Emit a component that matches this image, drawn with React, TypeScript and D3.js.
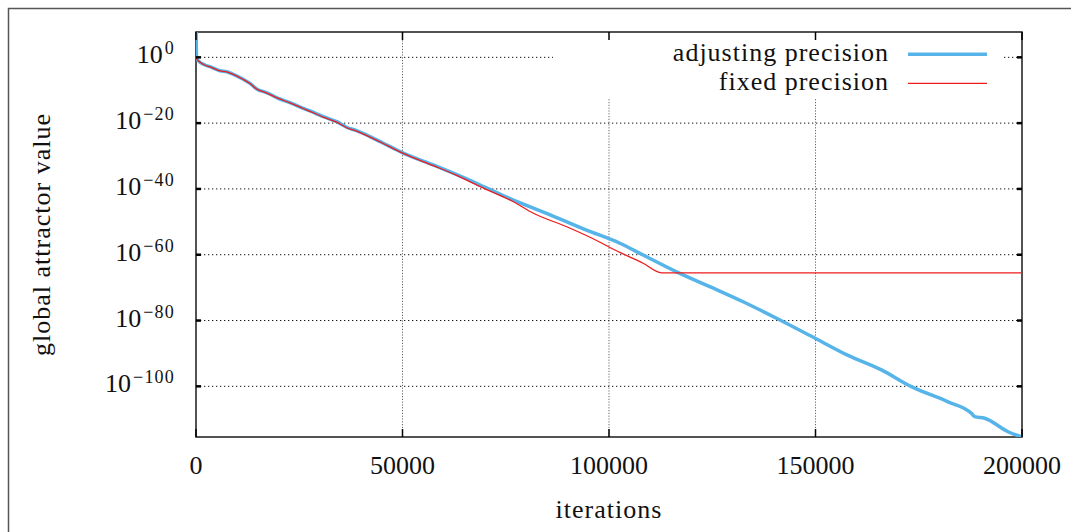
import React from "react";
import * as d3 from "d3";

const W = 1071;
const H = 532;

// iteration counts and log10 of the attractor value
const adjIter = [0, 150, 557, 2178, 3389, 5809, 7431, 9028, 11449, 13070, 14692, 17112, 19920, 22752, 25971, 27593, 30812, 34056, 36476, 38896, 42115, 45335, 47755, 50176, 57436, 63000, 68813, 76872, 84884, 94564, 102625, 108268, 116349, 124411, 132470, 140551, 150232, 157880, 165963, 173225, 182083, 187746, 188545, 190965, 196604, 200000];
const adjExp = [12, -0.3, -1.03, -2.34, -2.85, -4.07, -4.37, -5.16, -6.68, -7.9, -9.6, -10.75, -12.45, -13.78, -15.48, -16.3, -18.03, -19.56, -21.26, -22.3, -24.1, -26.1, -27.6, -29.1, -32.7, -35.6, -38.8, -43.4, -47.4, -52.5, -56.5, -60.1, -65.2, -69.7, -74.3, -79.3, -85.6, -90.6, -95.0, -100.1, -104.7, -108.2, -109.2, -109.7, -113.8, -115.4];

const fixIter = [0, 557, 2178, 3389, 5809, 7431, 9028, 11449, 13070, 14692, 17112, 19920, 22752, 25971, 27593, 30812, 34056, 36476, 38896, 42115, 45335, 47755, 50176, 57436, 63000, 68813, 76872, 81710, 89771, 97830, 100205, 102625, 108268, 112714, 200000];
const fixExp = [-0.3, -1.05, -2.4, -2.9, -4.1, -4.45, -5.2, -6.75, -7.95, -9.65, -10.85, -12.5, -13.85, -15.55, -16.4, -18.15, -19.7, -21.4, -22.4, -24.25, -26.2, -27.75, -29.2, -32.9, -35.8, -39.3, -43.9, -47.4, -51.5, -56.2, -57.8, -59.3, -62.6, -65.5, -65.5];

const xTicks = [0, 50000, 100000, 150000, 200000];
const yTickExp = [0, -20, -40, -60, -80, -100];

const seriesNames = ["adjusting precision", "fixed precision"];
const seriesColors = ["#56B4E9", "#ee1c1c"];
const seriesWidths = [3.5, 1.3];

const plot = { left: 196, right: 1022, top: 32, bottom: 437 };
const font = "'Liberation Serif', 'Times New Roman', serif";

export default function App() {
  const x = d3.scaleLinear().domain([0, 200000]).range([plot.left, plot.right]);
  const y = d3
    .scaleLog()
    .domain([Math.pow(10, -115.4), Math.pow(10, 7.7)])
    .range([plot.bottom, plot.top]);

  const line = d3
    .line<[number, number]>()
    .x((d) => x(d[0]))
    .y((d) => y(Math.pow(10, d[1])))
    .curve(d3.curveMonotoneX);

  const adj: [number, number][] = adjIter.map((it, i) => [it, adjExp[i]]);
  const fix: [number, number][] = fixIter.map((it, i) => [it, fixExp[i]]);
  const series = [adj, fix];

  const key = { x0: 553, x1: 1004, y0: plot.top, y1: 99 };

  return (
    <svg
      width={W}
      height={H}
      style={{ position: "absolute", left: 0, top: 0, background: "#fff" }}
    >
      <defs>
        <clipPath id="plotClip">
          <rect
            x={plot.left}
            y={plot.top}
            width={plot.right - plot.left}
            height={plot.bottom - plot.top}
          />
        </clipPath>
      </defs>
      <rect x={8.5} y={8.5} width={1200} height={700} fill="none" stroke="#555" strokeWidth={1.5} />

      {/* grid */}
      {yTickExp.map((e) => (
        <line
          key={"gy" + e}
          x1={plot.left}
          x2={plot.right}
          y1={y(Math.pow(10, e))}
          y2={y(Math.pow(10, e))}
          stroke="#111"
          strokeWidth={1}
          strokeDasharray="1.3,2.7"
        />
      ))}
      {xTicks.slice(1, -1).map((t) => (
        <line
          key={"gx" + t}
          x1={x(t)}
          x2={x(t)}
          y1={plot.top}
          y2={plot.bottom}
          stroke="#666"
          strokeWidth={1}
          strokeDasharray="1.2,1.6"
        />
      ))}

      {/* key background */}
      <rect x={key.x0} y={key.y0} width={key.x1 - key.x0} height={key.y1 - key.y0} fill="#fff" />

      {/* border */}
      <rect
        x={plot.left}
        y={plot.top}
        width={plot.right - plot.left}
        height={plot.bottom - plot.top}
        fill="none"
        stroke="#1a1a1a"
        strokeWidth={1.5}
      />

      {/* curves */}
      <g clipPath="url(#plotClip)">
        {series.map((s, i) => (
          <path
            key={seriesNames[i]}
            d={line(s) || ""}
            fill="none"
            stroke={seriesColors[i]}
            strokeWidth={seriesWidths[i]}
            strokeLinejoin="round"
          />
        ))}
      </g>

      {/* ticks */}
      {yTickExp.map((e) => {
        const yy = y(Math.pow(10, e));
        return (
          <g key={"ty" + e}>
            <line x1={plot.left} x2={plot.left + 5} y1={yy} y2={yy} stroke="#000" strokeWidth={2.5} />
            <line x1={plot.right - 5} x2={plot.right} y1={yy} y2={yy} stroke="#000" strokeWidth={2.5} />
            <text x={175} y={yy + 6} textAnchor="end" fontFamily={font} fontSize={26} fill="#111">
              10
              <tspan dx={2} dy={-9} fontSize={18} letterSpacing={1.2}>
                {e === 0 ? "0" : "\u2212" + Math.abs(e)}
              </tspan>
            </text>
          </g>
        );
      })}
      {xTicks.map((t) => (
        <g key={"tx" + t}>
          <line x1={x(t)} x2={x(t)} y1={plot.bottom} y2={plot.bottom - 8} stroke="#000" strokeWidth={1.5} />
          <line x1={x(t)} x2={x(t)} y1={plot.top} y2={plot.top + 8} stroke="#000" strokeWidth={1.5} />
          <text x={x(t)} y={474} textAnchor="middle" fontFamily={font} fontSize={26} fill="#111">
            {t}
          </text>
        </g>
      ))}

      {/* key */}
      {seriesNames.map((name, i) => {
        const ly = 54.3 + i * 29;
        return (
          <g key={"k" + name}>
            <text
              x={889}
              y={ly + 6.5}
              textAnchor="end"
              fontFamily={font}
              fontSize={26}
              letterSpacing={1}
              fill="#111"
            >
              {name}
            </text>
            <line x1={908} x2={987} y1={ly} y2={ly} stroke={seriesColors[i]} strokeWidth={seriesWidths[i]} />
          </g>
        );
      })}

      {/* axis titles */}
      <text
        x={(plot.left + plot.right) / 2}
        y={518}
        textAnchor="middle"
        fontFamily={font}
        fontSize={26}
        letterSpacing={1}
        fill="#111"
      >
        iterations
      </text>
      <text
        transform={`translate(50,${(plot.top + plot.bottom) / 2}) rotate(-90)`}
        textAnchor="middle"
        fontFamily={font}
        fontSize={26}
        letterSpacing={1}
        fill="#111"
      >
        global attractor value
      </text>
    </svg>
  );
}
